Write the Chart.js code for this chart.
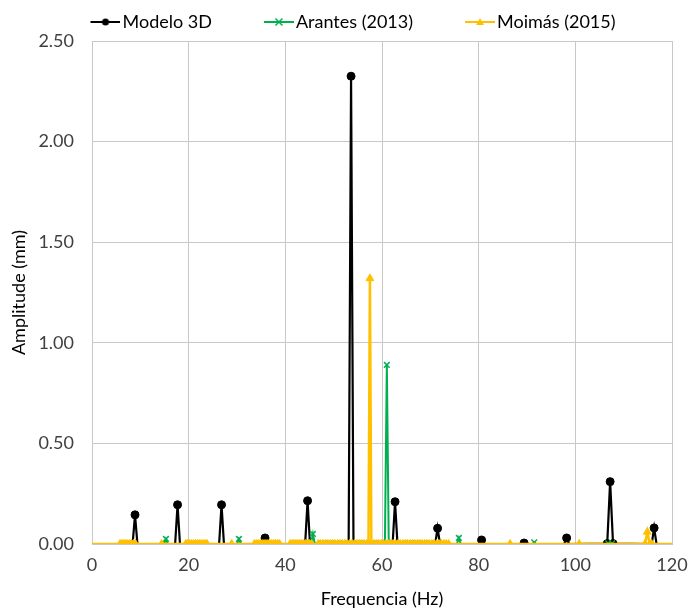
<!DOCTYPE html>
<html>
<head>
<meta charset="utf-8">
<script src="https://cdn.jsdelivr.net/npm/chart.js@4"></script>
<style>
  html, body { margin: 0; padding: 0; background: #fff; }
  #wrap { width: 688px; height: 610px; }
</style>
</head>
<body>
<div id="wrap"><canvas id="ampChart"></canvas></div>
<script>
// Modelo 3D
const modeloFreq = [0, 8.4, 8.9, 9.4, 17.2, 17.7, 18.2, 26.3, 26.8, 27.3, 35.3, 35.8, 36.3,
  44.1, 44.6, 45.1, 53.1, 53.6, 54.1, 62.2, 62.7, 63.2, 71.0, 71.5, 72.0, 80.1, 80.6, 81.1,
  88.9, 89.4, 89.9, 97.7, 98.2, 98.7, 106.6, 107.2, 107.8, 115.8, 116.3, 116.8, 120];
const modeloAmp = [0, 0, 0.145, 0, 0, 0.195, 0, 0, 0.195, 0, 0, 0.03, 0,
  0, 0.215, 0, 0, 2.325, 0, 0, 0.21, 0, 0, 0.078, 0, 0, 0.02, 0,
  0, 0.005, 0, 0, 0.03, 0, 0.002, 0.31, 0.002, 0, 0.08, 0, 0];

// Arantes (2013)
const arantesFreq = [0, 14.9, 15.3, 15.7, 30.0, 30.4, 30.8, 45.3, 45.7, 46.1,
  47.5, 49.0, 50.5, 52.0, 53.5, 55.0, 56.5, 58.0, 59.5,
  60.6, 61.0, 61.4,
  62.5, 64.0, 65.5, 67.0, 68.5, 70.0, 70.6,
  75.5, 75.9, 76.3, 91.1, 91.5, 91.9,
  106.4, 106.8, 107.6, 108.0, 120];
const arantesAmp = [0, 0, 0.025, 0, 0, 0.025, 0, 0, 0.05, 0,
  0.003, 0.003, 0.003, 0.003, 0.003, 0.003, 0.003, 0.003, 0.003,
  0, 0.89, 0,
  0.003, 0.003, 0.003, 0.003, 0.003, 0.003, 0,
  0, 0.03, 0, 0, 0.008, 0,
  0, 0.003, 0.003, 0, 0];

// Moimás (2015)
const moimasFreq = [0,
  5.8, 6.2, 6.6, 7.0, 7.4, 7.8, 8.2, 8.6, 9.0,
  14.4,
  19.4, 19.8, 20.2, 20.6, 21.0, 21.4, 21.8, 22.2, 22.6, 23.0, 23.4, 23.8,
  28.9,
  33.6, 34.0, 34.4, 34.8, 35.2, 35.6, 36.0, 36.4, 36.8, 37.2, 37.6, 38.0, 38.4, 38.8,
  41.0, 41.4, 41.8, 42.2, 42.6, 43.0, 43.4, 43.8, 44.2, 44.6, 45.0, 45.4,
  46.8, 47.3, 47.8, 48.3, 48.8, 49.3, 49.8, 50.3, 50.8, 51.3, 51.8,
  52.3, 52.8, 53.3, 53.8, 54.3, 54.8, 55.3, 55.8, 56.3, 56.8,
  57.2, 57.5, 57.8,
  58.3, 58.8, 59.3, 59.8, 60.3, 60.8, 61.3, 61.8, 62.3, 62.8, 63.3,
  63.8, 64.3, 64.8, 65.3, 65.8, 66.3, 66.8, 67.3, 67.8, 68.3, 68.8,
  69.3, 69.8, 70.3, 70.8, 71.3, 71.8, 72.3, 72.8, 73.3, 73.8,
  86.5, 100.8,
  114.4, 114.9, 115.4, 115.8,
  120];
const moimasAmp = [0,
  0, 0, 0, 0, 0, 0, 0, 0, 0,
  0,
  0, 0, 0, 0, 0, 0, 0, 0, 0, 0, 0, 0,
  0,
  0, 0, 0, 0, 0, 0, 0, 0, 0, 0, 0, 0, 0, 0,
  0, 0, 0, 0, 0, 0, 0, 0, 0, 0, 0, 0,
  0, 0, 0, 0, 0, 0, 0, 0, 0, 0, 0,
  0, 0, 0, 0, 0, 0, 0, 0, 0, 0,
  0, 1.32, 0,
  0, 0, 0, 0, 0, 0, 0, 0, 0, 0, 0,
  0, 0, 0, 0, 0, 0, 0, 0, 0, 0, 0,
  0, 0, 0, 0, 0, 0, 0, 0, 0, 0,
  0, 0,
  0, 0.06, 0, 0,
  0];

const BLACK = '#000000';
const GREEN = '#00B050';
const YELLOW = '#FFC000';
const FONT = 'Lato, "Open Sans", sans-serif';

function toPoints(xs, ys) {
  return xs.map((x, i) => ({ x: x, y: ys[i] }));
}

// line + marker pictures for the legend; the symbol sits at the right end
// of the picture so it ends just before the label text
function legendIcon(color, marker) {
  const c = document.createElement('canvas');
  c.width = 63;
  c.height = 12;
  const g = c.getContext('2d');
  const x0 = c.width - 30;
  const mid = x0 + 15;
  g.strokeStyle = color;
  g.fillStyle = color;
  g.lineWidth = 2;
  g.beginPath();
  g.moveTo(x0, 6);
  g.lineTo(c.width, 6);
  g.stroke();
  g.beginPath();
  if (marker === 'circle') {
    g.arc(mid, 6, 3.5, 0, Math.PI * 2);
    g.fill();
  } else if (marker === 'crossRot') {
    g.lineWidth = 1.5;
    g.moveTo(mid - 3.5, 2.5); g.lineTo(mid + 3.5, 9.5);
    g.moveTo(mid + 3.5, 2.5); g.lineTo(mid - 3.5, 9.5);
    g.stroke();
  } else {
    g.moveTo(mid, 2); g.lineTo(mid + 4, 9); g.lineTo(mid - 4, 9);
    g.closePath();
    g.fill();
  }
  return c;
}

const icons = [
  legendIcon(BLACK, 'circle'),
  legendIcon(GREEN, 'crossRot'),
  legendIcon(YELLOW, 'triangle')
];

const shownIfAbove = (r) => (ctx) => (ctx.raw && ctx.raw.y > 0 ? r : 0);
const shownInside = (r) => (ctx) => (ctx.raw && ctx.raw.x > 0 && ctx.raw.x < 120 ? r : 0);

const ctx = document.getElementById('ampChart').getContext('2d');

new Chart(ctx, {
  type: 'line',
  data: {
    datasets: [
      {
        label: 'Modelo 3D',
        data: toPoints(modeloFreq, modeloAmp),
        borderColor: BLACK,
        backgroundColor: BLACK,
        borderWidth: 2.2,
        pointStyle: 'circle',
        pointRadius: shownIfAbove(4),
        pointBorderWidth: 1,
        order: 3
      },
      {
        label: 'Arantes (2013)',
        data: toPoints(arantesFreq, arantesAmp),
        borderColor: GREEN,
        backgroundColor: GREEN,
        borderWidth: 2,
        pointStyle: 'crossRot',
        pointRadius: shownIfAbove(4),
        pointBorderWidth: 1.5,
        order: 2
      },
      {
        label: 'Moimás (2015)',
        data: toPoints(moimasFreq, moimasAmp),
        borderColor: YELLOW,
        backgroundColor: YELLOW,
        borderWidth: 2.5,
        pointStyle: 'triangle',
        pointRadius: shownInside(4.5),
        pointBorderWidth: 1,
        order: 1
      }
    ]
  },
  options: {
    responsive: true,
    maintainAspectRatio: false,
    animation: false,
    layout: {
      padding: { left: 8, right: 16, top: -13, bottom: 0 }
    },
    plugins: {
      legend: {
        position: 'top',
        labels: {
          usePointStyle: true,
          pointStyleWidth: 49,
          padding: 26,
          color: '#000',
          font: { family: FONT, size: 18 },
          sort: (a, b) => a.datasetIndex - b.datasetIndex,
          generateLabels: (chart) =>
            Chart.defaults.plugins.legend.labels.generateLabels(chart).map((item) => ({
              ...item,
              pointStyle: icons[item.datasetIndex]
            }))
        }
      },
      tooltip: {
        mode: 'nearest',
        intersect: false
      }
    },
    scales: {
      x: {
        type: 'linear',
        min: 0,
        max: 120,
        title: {
          display: true,
          text: 'Frequencia (Hz)',
          color: '#000',
          font: { family: FONT, size: 18 },
          padding: { top: 4, bottom: 0 }
        },
        ticks: {
          stepSize: 20,
          color: '#404040',
          font: { family: FONT, size: 18 },
          padding: 10
        },
        grid: {
          color: '#C8C8C8',
          drawTicks: false
        },
        border: { color: '#C8C8C8' },
        afterFit: (scale) => {
          scale.height = 66;
          // the "120" label may hang into the right margin
          scale.paddingLeft = 0;
          scale.paddingRight = 0;
        }
      },
      y: {
        min: 0,
        max: 2.5,
        title: {
          display: true,
          text: 'Amplitude (mm)',
          color: '#000',
          font: { family: FONT, size: 18 },
          padding: 0
        },
        ticks: {
          stepSize: 0.5,
          color: '#404040',
          font: { family: FONT, size: 18 },
          padding: 18,
          callback: (v) => v.toFixed(2)
        },
        grid: {
          color: '#C8C8C8',
          drawTicks: false
        },
        border: { color: '#C8C8C8' },
        afterFit: (scale) => { scale.width = 84; }
      }
    }
  }
});
</script>
</body>
</html>
